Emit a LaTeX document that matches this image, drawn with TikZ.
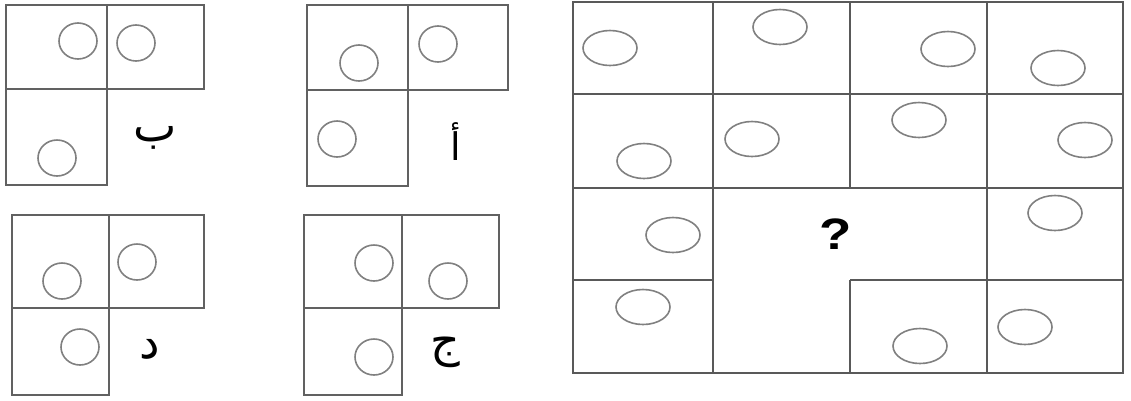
\documentclass[tikz,border=0pt]{standalone}
\usepackage{fontspec}
\newfontfamily\arabicfont[Script=Arabic]{DejaVu Sans}
\newfontfamily\qfont{Liberation Sans}
\TeXXeTstate=1
\begin{document}
\begin{tikzpicture}[x=1pt,y=-1pt,
  gridline/.style={draw=black!62,line width=2.6pt},
  bigline/.style={draw=black!65,line width=2.8pt},
  ring/.style={draw=black!50,line width=1.6pt},
  letter/.style={font=\arabicfont\fontsize{46}{50}\selectfont,text=black,inner sep=0pt},
  tallletter/.style={font=\arabicfont\fontsize{38}{44}\selectfont,text=black,inner sep=0pt}]
\useasboundingbox (0,0) rectangle (1131,400);
% ---- figure b (ba)
\draw[gridline] (6,5) rectangle (107,89);
\draw[gridline] (107,5) rectangle (204,89);
\draw[gridline] (6,89) rectangle (107,185);
\draw[ring] (78,41) ellipse [x radius=19,y radius=18];
\draw[ring] (136,43) ellipse [x radius=19,y radius=18];
\draw[ring] (57,158) ellipse [x radius=19,y radius=18];
\node[letter] (lb) at (155,138) {\beginR ب\endR};
% ---- figure alef
\draw[gridline] (307,5) rectangle (408,90);
\draw[gridline] (408,5) rectangle (508,90);
\draw[gridline] (307,90) rectangle (408,186);
\draw[ring] (359,63) ellipse [x radius=19,y radius=18];
\draw[ring] (438,44) ellipse [x radius=19,y radius=18];
\draw[ring] (337,139) ellipse [x radius=19,y radius=18];
\node[tallletter] (la) at (456,142) {\beginR أ\endR};
% ---- figure dal
\draw[gridline] (12,215) rectangle (109,308);
\draw[gridline] (109,215) rectangle (204,308);
\draw[gridline] (12,308) rectangle (109,395);
\draw[ring] (62,281) ellipse [x radius=19,y radius=18];
\draw[ring] (137,262) ellipse [x radius=19,y radius=18];
\draw[ring] (80,347) ellipse [x radius=19,y radius=18];
\node[letter] (ld) at (150,349) {\beginR د\endR};
% ---- figure jim
\draw[gridline] (304,215) rectangle (402,308);
\draw[gridline] (402,215) rectangle (499,308);
\draw[gridline] (304,308) rectangle (402,395);
\draw[ring] (374,263) ellipse [x radius=19,y radius=18];
\draw[ring] (448,281) ellipse [x radius=19,y radius=18];
\draw[ring] (374,357) ellipse [x radius=19,y radius=18];
\node[letter] (lj) at (445,352) {\beginR ج\endR};
% ---- big grid
\draw[bigline] (573,2) rectangle (1123,373);
\draw[bigline] (573,94) -- (1123,94);
\draw[bigline] (573,188) -- (1123,188);
\draw[bigline] (573,280) -- (713,280);
\draw[bigline] (850,280) -- (1123,280);
\draw[bigline] (713,2) -- (713,373);
\draw[bigline] (850,2) -- (850,188);
\draw[bigline] (850,280) -- (850,373);
\draw[bigline] (987,2) -- (987,373);
\foreach \cx/\cy in {610/48,780/27,948/49,1058/68,644/161,752/139,919/120,1085/140,673/235,1055/213,643/307,920/346,1025/327}
  \draw[ring] (\cx,\cy) ellipse [x radius=27,y radius=17.5];
\node[font=\qfont\bfseries\fontsize{44}{48}\selectfont,inner sep=0pt,xscale=1.2] (q) at (836,234) {?};
\end{tikzpicture}
\end{document}
